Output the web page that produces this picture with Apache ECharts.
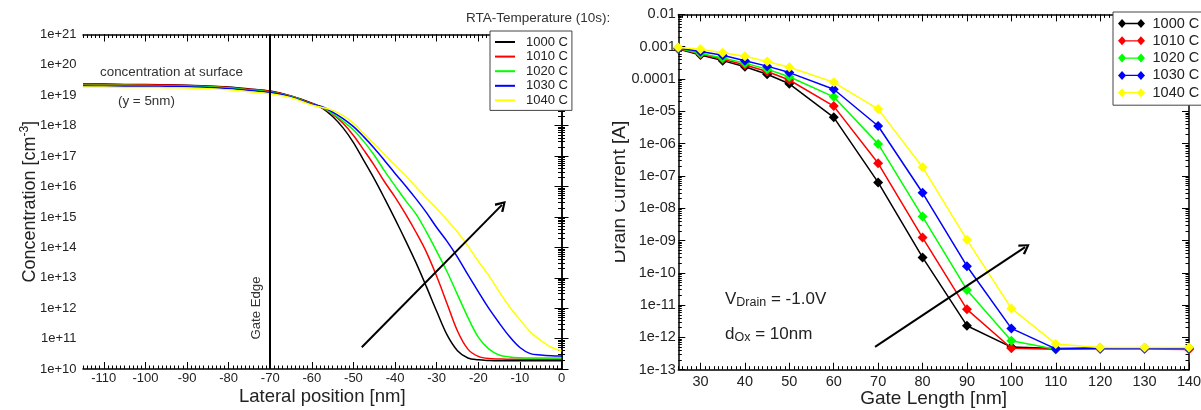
<!DOCTYPE html>
<html><head><meta charset="utf-8">
<script src="https://cdn.jsdelivr.net/npm/echarts@6/dist/echarts.min.js"></script>
<style>html,body{margin:0;padding:0;background:#fff}#c{width:1201px;height:410px}</style>
</head><body><div id="c"></div><script>
// ---------- data ----------
const seriesNames = ['1000 C', '1010 C', '1020 C', '1030 C', '1040 C'];
const colors = ['#000000', '#ff0000', '#00ff00', '#0000ff', '#ffff00'];

// left panel: doping concentration vs lateral position
const lateralPos = [-115,-110,-105,-100,-95,-90,-85,-80,-75,-70,-65,-60,-57.5,-55,-52.5,-50,-47.5,-45,-42.5,-40,-37.5,-35,-32.5,-30,-27.5,-25,-22.5,-20,-17.5,-15,-12.5,-10,-7.5,-5,-2.5,0];
const conc1000 = [2.34e19,2.34e19,2.29e19,2.29e19,2.24e19,2.14e19,2.04e19,1.86e19,1.62e19,1.38e19,9.5e18,5.5e18,3.8e18,2.0e18,8.5e17,2.8e17,7.1e16,1.78e16,4.0e15,8.5e14,1.7e14,3.2e13,5.2e12,7.9e11,1.32e11,4.0e10,2.3e10,2.0e10,1.9e10,1.86e10,1.86e10,1.86e10,1.86e10,1.86e10,1.86e10,1.86e10];
const conc1010 = [2.29e19,2.29e19,2.24e19,2.24e19,2.19e19,2.09e19,2.0e19,1.82e19,1.58e19,1.35e19,9.3e18,5.4e18,3.9e18,2.4e18,1.2e18,4.8e17,1.58e17,5.0e16,1.41e16,4.5e15,1.26e15,3.2e14,7.1e13,1.12e13,1.41e12,1.78e11,4.5e10,2.6e10,2.2e10,2.14e10,2.1e10,2.1e10,2.1e10,2.1e10,2.1e10,2.1e10];
const conc1020 = [2.14e19,2.14e19,2.14e19,2.09e19,2.04e19,2.0e19,1.91e19,1.74e19,1.51e19,1.29e19,9.1e18,5.2e18,4.0e18,2.5e18,1.41e18,7.2e17,3.0e17,1.07e17,3.2e16,1.05e16,3.5e15,1.26e15,3.3e14,7.4e13,1.58e13,2.8e12,5.0e11,1.12e11,4.6e10,2.9e10,2.5e10,2.35e10,2.3e10,2.3e10,2.3e10,2.3e10];
const conc1030 = [2.04e19,2.0e19,2.0e19,2.0e19,1.95e19,1.91e19,1.82e19,1.66e19,1.45e19,1.23e19,8.9e18,5.1e18,4.2e18,2.8e18,1.7e18,9.3e17,4.3e17,1.82e17,7.1e16,2.7e16,1.07e16,4.0e15,1.41e15,4.5e14,1.58e14,4.8e13,1.26e13,3.5e12,1.0e12,3.3e11,1.17e11,5.1e10,3.2e10,2.9e10,2.75e10,2.7e10];
const conc1040 = [1.86e19,1.86e19,1.82e19,1.82e19,1.78e19,1.74e19,1.66e19,1.51e19,1.32e19,1.12e19,8.3e18,4.8e18,4.0e18,3.2e18,2.14e18,1.2e18,5.5e17,2.5e17,1.12e17,5.0e16,2.3e16,9.8e15,4.2e15,1.9e15,7.9e14,3.2e14,1.12e14,3.5e13,1.2e13,3.5e12,1.12e12,4.2e11,1.66e11,8.7e10,5.2e10,4.0e10];
const lateralTicks = [-110,-100,-90,-80,-70,-60,-50,-40,-30,-20,-10,0];
const gateEdgeX = -70;
const arrowLeft = [-48, 5.2e10, -14.3, 2.5e15];

// right panel: drain current vs gate length
const gateLength = [25,30,35,40,45,50,60,70,80,90,100,110,120,130,140];
const id1000 = [8.5e-4,5.5e-4,3.7e-4,2.4e-4,1.4e-4,7.1e-5,6.5e-6,6.3e-8,3.0e-10,2.3e-12,5.0e-13,4.5e-13,4.7e-13,4.7e-13,4.7e-13];
const id1010 = [8.7e-4,5.9e-4,4.1e-4,2.7e-4,1.7e-4,9.3e-5,1.45e-5,2.45e-7,1.23e-9,7.4e-12,4.6e-13,4.3e-13,4.4e-13,4.4e-13,4.2e-13];
const id1020 = [8.9e-4,6.2e-4,4.5e-4,3.1e-4,2.0e-4,1.17e-4,2.8e-5,9.8e-7,5.5e-9,2.95e-11,7.9e-13,4.3e-13,4.5e-13,4.5e-13,4.5e-13];
const id1030 = [9.1e-4,7.1e-4,5.4e-4,3.7e-4,2.5e-4,1.58e-4,4.8e-5,3.5e-6,3.0e-8,1.6e-10,1.9e-12,4.4e-13,4.6e-13,4.6e-13,4.6e-13];
const id1040 = [9.5e-4,8.3e-4,6.5e-4,5.1e-4,3.5e-4,2.3e-4,7.9e-5,1.17e-5,1.86e-7,1.05e-9,7.9e-12,6.3e-13,4.9e-13,4.9e-13,4.9e-13];
const gateTicks = [30,40,50,60,70,80,90,100,110,120,130,140];
const arrowRight = [69.3, 5.1e-13, 103.1, 6.2e-10];

// ---------- chart ----------
const FONT = 'Liberation Sans';
const concSets = [conc1000, conc1010, conc1020, conc1030, conc1040];
const idSets = [id1000, id1010, id1020, id1030, id1040];
const rightNames = seriesNames.map(n => n + ' ');
const tickStyle = {color: '#000', width: 1};
const frame = {lineStyle: {color: '#000', width: 1.5}};

function minorExp(lo, hi) {
  const v = [];
  for (let n = lo; n < hi; n++) for (let k = 2; k <= 9; k++) v.push(n + Math.log10(k));
  return v;
}

function xAxes(grid, min, max, major, fs, margin, name, gap, nfs) {
  const base = {type: 'value', gridIndex: grid, min: min, max: max, splitLine: {show: false}};
  const fmt = v => (major.indexOf(v) >= 0 ? String(v) : '');
  return [
    Object.assign({}, base, {position: 'bottom', interval: 5, name: name, nameLocation: 'middle', nameGap: gap,
      nameMoveOverlap: false,
      nameTextStyle: {fontSize: nfs, color: '#222', fontFamily: FONT},
      axisLine: frame, axisTick: {inside: true, length: 7, customValues: major, lineStyle: tickStyle},
      axisLabel: {customValues: major, formatter: fmt, margin: margin, fontSize: fs, color: '#222', fontFamily: FONT}}),
    Object.assign({}, base, {position: 'bottom', interval: 1, axisLine: {show: false}, axisLabel: {show: false},
      axisTick: {inside: true, length: 3.5, lineStyle: tickStyle}}),
    Object.assign({}, base, {position: 'top', interval: 5, axisLine: frame, axisLabel: {show: false},
      axisTick: {inside: true, length: 7, customValues: major, lineStyle: tickStyle}}),
    Object.assign({}, base, {position: 'top', interval: 1, axisLine: {show: false}, axisLabel: {show: false},
      axisTick: {inside: true, length: 3.5, lineStyle: tickStyle}})
  ];
}

function yAxes(grid, min, max, eMin, eMax, fmt, fs, margin, name, gap, nameStyle) {
  const logBase = {type: 'log', logBase: 10, gridIndex: grid, min: min, max: max, interval: 1, splitLine: {show: false}};
  const helper = {type: 'value', gridIndex: grid, min: eMin, max: eMax, splitLine: {show: false},
    axisLine: {show: false}, axisLabel: {show: false},
    axisTick: {inside: true, length: 3.5, customValues: minorExp(eMin, eMax), lineStyle: tickStyle}};
  return [
    Object.assign({}, logBase, {position: 'left', name: name, nameLocation: 'middle', nameGap: gap, nameRotate: 90,
      nameMoveOverlap: false,
      nameTextStyle: nameStyle, axisLine: frame,
      axisTick: {inside: true, length: 7, lineStyle: tickStyle},
      axisLabel: {formatter: fmt, margin: margin, fontSize: fs, color: '#222', fontFamily: FONT}}),
    Object.assign({}, helper, {position: 'left'}),
    Object.assign({}, logBase, {position: 'right', axisLine: frame, axisLabel: {show: false},
      axisTick: {inside: true, length: 7, lineStyle: tickStyle}}),
    Object.assign({}, helper, {position: 'right'})
  ];
}

const fmtLeft = v => '1e+' + Math.round(Math.log10(v));
const fmtRight = v => {
  const e = Math.round(Math.log10(v));
  return e >= -4 ? v.toFixed(-e) : '1e-' + String(-e).padStart(2, '0');
};

const arrowHead = 'path://M5,0 L10,8 L8.4,9.2 L5,3.2 L1.6,9.2 L0,8 Z';
const diamondLine = 'path://M0,5L4.5,0L9,5L4.5,10Z M21,5L25.5,0L30,5L25.5,10Z M4,4.3L26,4.3L26,5.7L4,5.7Z';

const series = [];
concSets.forEach((arr, i) => {
  const s = {
    type: 'line', name: seriesNames[i], xAxisIndex: 0, yAxisIndex: 0,
    data: lateralPos.map((x, j) => [x, arr[j]]),
    symbol: 'none', smooth: 0.35, lineStyle: {color: colors[i], width: 1.5}, itemStyle: {color: colors[i]},
    z: 2 + i
  };
  if (i === concSets.length - 1) {
    s.markLine = {
      silent: true, animation: false, z: 20, symbol: ['none', 'none'], label: {show: false},
      lineStyle: {color: '#000', width: 2, type: 'solid'},
      data: [
        {xAxis: gateEdgeX},
        [{coord: [arrowLeft[0], arrowLeft[1]], symbol: 'none'},
         {coord: [arrowLeft[2], arrowLeft[3]], symbol: arrowHead, symbolSize: [12, 11]}]
      ]
    };
  }
  series.push(s);
});
idSets.forEach((arr, i) => {
  const s = {
    type: 'line', name: rightNames[i], xAxisIndex: 4, yAxisIndex: 4,
    data: gateLength.map((x, j) => [x, arr[j]]),
    symbol: 'diamond', symbolSize: 10, showSymbol: true,
    lineStyle: {color: colors[i], width: 1.5}, itemStyle: {color: colors[i], borderWidth: 0},
    z: 2 + i
  };
  if (i === idSets.length - 1) {
    s.markLine = {
      silent: true, animation: false, z: 20, symbol: ['none', 'none'], label: {show: false},
      lineStyle: {color: '#000', width: 2, type: 'solid'},
      data: [
        [{coord: [arrowRight[0], arrowRight[1]], symbol: 'none'},
         {coord: [arrowRight[2], arrowRight[3]], symbol: arrowHead, symbolSize: [12, 11]}]
      ]
    };
  }
  series.push(s);
});

const option = {
  animation: false,
  backgroundColor: '#fff',
  textStyle: {fontFamily: FONT},
  grid: [
    {left: 83, right: 1201 - 561.5, top: 34.5, bottom: 410 - 369, show: false, containLabel: false, outerBoundsMode: 'none'},
    {left: 678.3, right: 1201 - 1189, top: 14.4, bottom: 410 - 369.7, show: false, containLabel: false, outerBoundsMode: 'none'}
  ],
  xAxis: [].concat(
    xAxes(0, -115, 0, lateralTicks, 13, 2.5, 'Lateral position [nm]', 18, 18.5),
    xAxes(1, 25, 140, gateTicks, 14.5, 4.5, 'Gate Length [nm]', 20, 19)
  ),
  yAxis: [].concat(
    yAxes(0, 1e10, 1e21, 10, 21, fmtLeft, 13, 6.5, '{t|Concentration [cm}{s|-3}{t|]}', 46,
      {color: '#222', fontFamily: FONT, fontSize: 18,
       rich: {t: {fontSize: 18, fontFamily: FONT, color: '#222', lineHeight: 18, padding: [4, 0, 0, 0]},
              s: {fontSize: 12, fontFamily: FONT, color: '#222', lineHeight: 12, verticalAlign: 'top'}}}),
    yAxes(1, 1e-13, 1e-2, -13, -2, fmtRight, 14.5, 2.5, 'Drain Current [A]', 49,
      {color: '#222', fontFamily: FONT, fontSize: 19})
  ),
  legend: [
    {
      left: 490, top: 31, orient: 'vertical', selectedMode: false,
      data: seriesNames.map(n => ({name: n, icon: 'rect'})),
      itemWidth: 20, itemHeight: 2, itemGap: 0.6,
      padding: [4, 4, 3, 5], borderColor: '#444', borderWidth: 1, backgroundColor: '#fff',
      itemStyle: {borderWidth: 0},
      textStyle: {fontSize: 13, color: '#222', fontFamily: FONT, lineHeight: 14, padding: [0, 0, 0, 6]}
    },
    {
      left: 1113, top: 12, orient: 'vertical', selectedMode: false,
      data: rightNames.map(n => ({name: n, icon: diamondLine})),
      itemWidth: 30, itemHeight: 9, itemGap: 2.3,
      padding: [4, 8, 5, 5], borderColor: '#444', borderWidth: 1, backgroundColor: '#fff',
      itemStyle: {borderWidth: 0},
      textStyle: {fontSize: 14.5, color: '#222', fontFamily: FONT, lineHeight: 14, padding: [0, 0, 0, 1]}
    }
  ],
  graphic: [
    {type: 'text', left: 466, top: 11, z: 50,
     style: {text: 'RTA-Temperature (10s):', fontSize: 13.5, fontFamily: FONT, fill: '#333'}},
    {type: 'text', left: 100, top: 66, z: 50,
     style: {text: 'concentration at surface', fontSize: 13.4, fontFamily: FONT, fill: '#333'}},
    {type: 'text', left: 118, top: 95, z: 50,
     style: {text: '(y = 5nm)', fontSize: 13.4, fontFamily: FONT, fill: '#333'}},
    {type: 'text', x: 256, y: 308, rotation: Math.PI / 2, z: 50,
     style: {text: 'Gate Edge', fontSize: 13.2, fontFamily: FONT, fill: '#333', align: 'center', verticalAlign: 'middle'}},
    {type: 'text', left: 725, top: 286, z: 50,
     style: {text: '{m|V}{s|Drain}{m| = -1.0V}', fill: '#222', fontFamily: FONT,
       rich: {m: {fontSize: 17, fontFamily: FONT, lineHeight: 18, verticalAlign: 'top'},
              s: {fontSize: 12.5, fontFamily: FONT, lineHeight: 12, padding: [10, 0, 0, 0], verticalAlign: 'bottom'}}}},
    {type: 'text', left: 725, top: 321, z: 50,
     style: {text: '{m|d}{s|Ox}{m| = 10nm}', fill: '#222', fontFamily: FONT,
       rich: {m: {fontSize: 17, fontFamily: FONT, lineHeight: 18, verticalAlign: 'top'},
              s: {fontSize: 12.5, fontFamily: FONT, lineHeight: 12, padding: [10, 0, 0, 0], verticalAlign: 'bottom'}}}},
    {type: 'rect', z: 100, shape: {x: 598, y: 165, width: 17, height: 106}, style: {fill: '#fff'}}
  ],
  series: series
};

const chart = echarts.init(document.getElementById('c'), null, {renderer: 'canvas'});
chart.setOption(option);
</script></body></html>
